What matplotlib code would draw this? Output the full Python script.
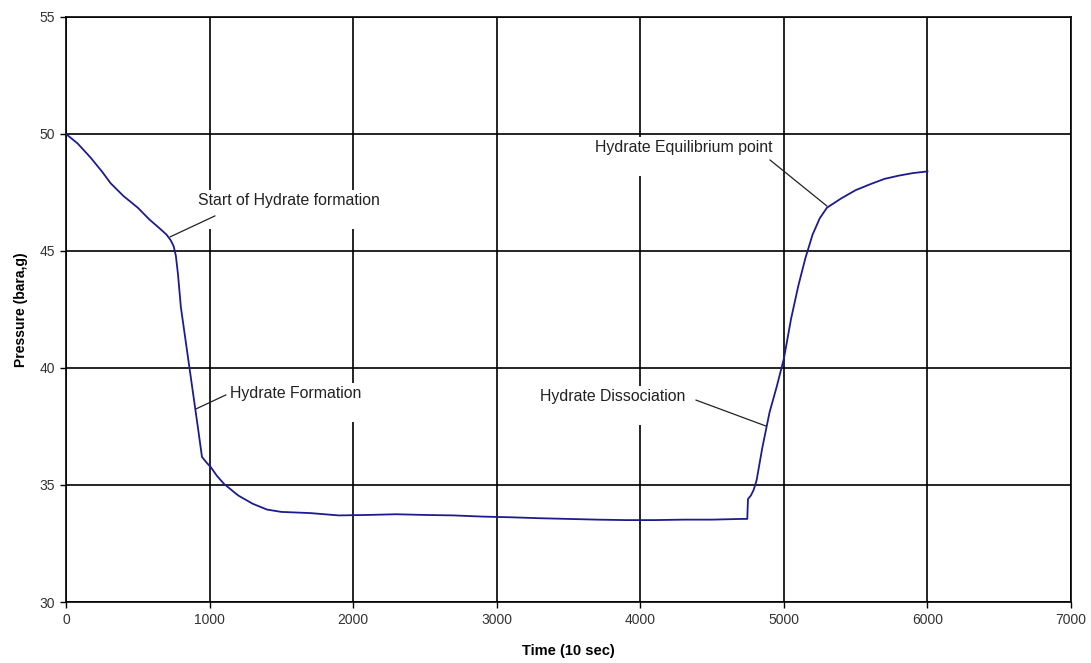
import matplotlib.pyplot as plt
import matplotlib

matplotlib.rc("font", family=['Liberation Sans', 'DejaVu Sans'])

# 数据
time = [0, 80, 170, 250, 310, 400, 500, 580, 655, 700, 730, 750, 765, 780,
        800, 830, 860, 890, 920, 947, 980, 1010, 1050, 1100, 1200, 1300,
        1400, 1500, 1700, 1900, 2100, 2300, 2500, 2700, 2900, 3100, 3300,
        3500, 3700, 3900, 4100, 4300, 4500, 4700, 4745, 4750, 4770, 4790,
        4810, 4850, 4900, 4950, 5000, 5050, 5100, 5150, 5200, 5250, 5300,
        5350, 5400, 5500, 5600, 5700, 5800, 5900, 6000]
pressure = [50.0, 49.6, 49.0, 48.4, 47.9, 47.35, 46.85, 46.35, 45.95, 45.7,
            45.45, 45.2, 44.8, 44.0, 42.6, 41.3, 40.0, 38.7, 37.4, 36.2,
            35.95, 35.75, 35.4, 35.05, 34.55, 34.2, 33.95, 33.85, 33.8,
            33.7, 33.72, 33.75, 33.72, 33.7, 33.65, 33.62, 33.58, 33.55,
            33.52, 33.5, 33.5, 33.52, 33.52, 33.55, 33.55, 34.4, 34.55,
            34.8, 35.2, 36.6, 38.1, 39.2, 40.4, 42.1, 43.5, 44.7, 45.7,
            46.4, 46.85, 47.05, 47.25, 47.6, 47.85, 48.08, 48.22, 48.33,
            48.4]

# 标注: 文字, 文字位置, 线起点, 线终点
notes = [
    ('Start of Hydrate formation', (919, 47.48), (1038, 46.5), (724, 45.6)),
    ('Hydrate Formation', (1142, 39.23), (1114, 38.85), (905, 38.25)),
    ('Hydrate Dissociation', (3301, 39.1), (4387, 38.63), (4875, 37.52)),
    ('Hydrate Equilibrium point', (3684, 49.74), (4903, 48.89), (5300, 46.92)),
]

fig = plt.figure(figsize=(10.91, 6.63), dpi=100)
ax = fig.add_axes([0.0605, 0.092, 0.9212, 0.8824])

ax.plot(time, pressure, color='#1c1c8e', linewidth=1.3, zorder=4)

ax.set_xlim(0, 7000)
ax.set_ylim(30, 55)
ax.set_xticks(range(0, 7001, 1000))
ax.set_yticks(range(30, 56, 5))
ax.grid(True, color='black', linewidth=1.2, zorder=1)
ax.set_axisbelow(True)
for s in ax.spines.values():
    s.set_color('black')
    s.set_linewidth(1.2)
ax.tick_params(direction='out', length=4, width=1, colors='black',
               labelsize=10, labelcolor='#333333', pad=4)

ax.set_xlabel('Time (10 sec)', fontsize=10.5, fontweight='bold', labelpad=12)
ax.set_ylabel('Pressure (bara,g)', fontsize=10, fontweight='bold', labelpad=8)

for label, txy, p0, p1 in notes:
    ax.text(txy[0], txy[1], label + '\n', fontsize=11.4, color='#222222',
            ha='left', va='top', zorder=3,
            transform=ax.transData,
            bbox=dict(boxstyle='square,pad=0.2', fc='white', ec='none'))
    ax.annotate('', xy=p1, xytext=p0,
                arrowprops=dict(arrowstyle='-', color='#222222', lw=0.9,
                                shrinkA=0, shrinkB=0), zorder=5)

plt.savefig('out.png')
